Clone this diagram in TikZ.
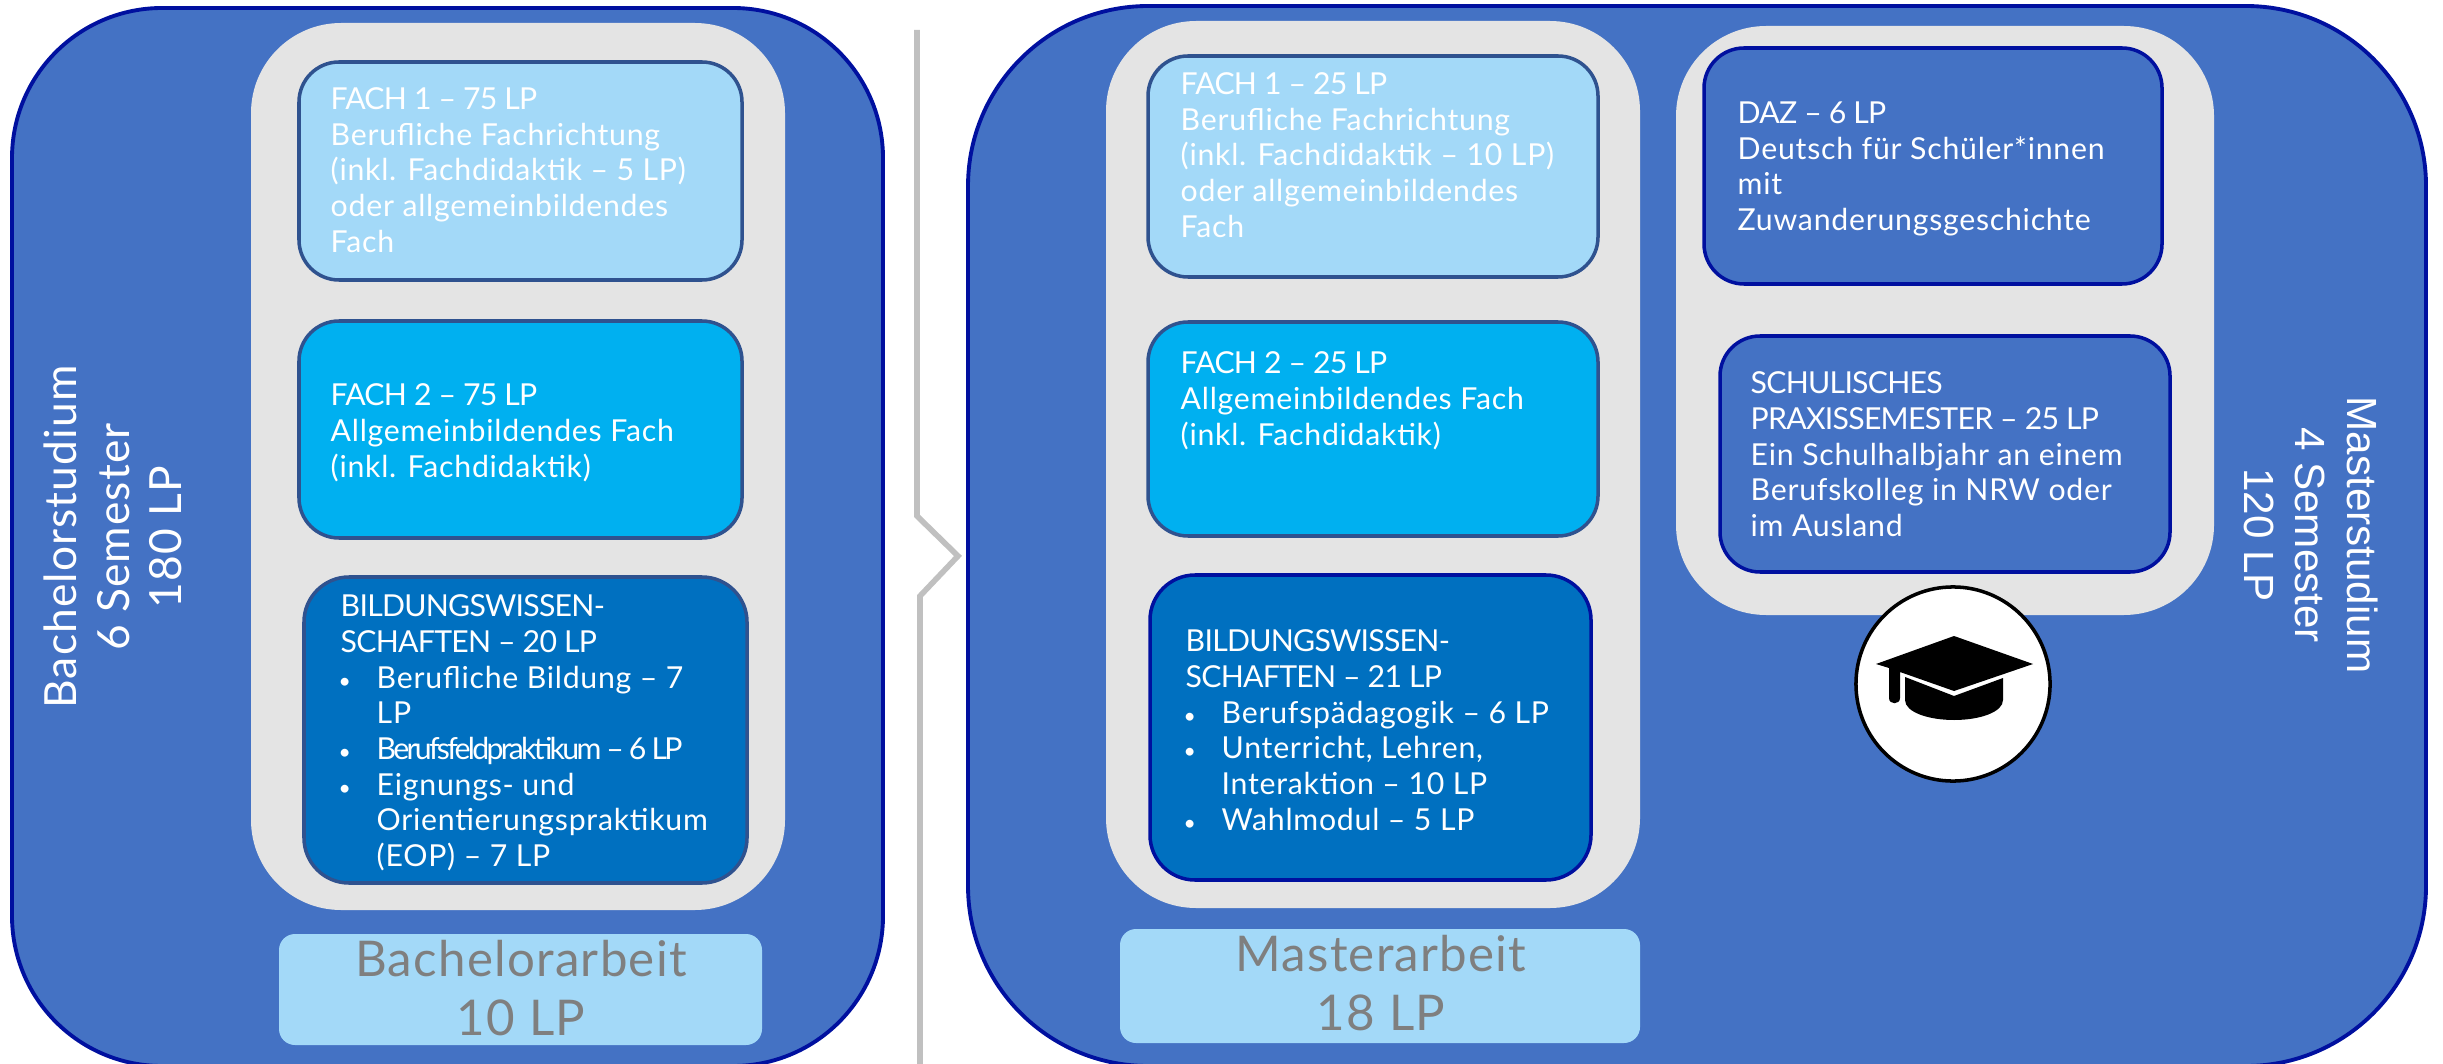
\documentclass[tikz,border=0pt]{standalone}
\usepackage{fontspec}
\setmainfont{Lato}[LetterSpace=2.5]
\newfontfamily\arialish{Liberation Sans}
\definecolor{outerblue}{HTML}{4472C4}
\definecolor{navyline}{HTML}{00109F}
\definecolor{slateline}{HTML}{2F528F}
\definecolor{panelgrey}{HTML}{E4E4E4}
\definecolor{paleblue}{HTML}{A3D9F8}
\definecolor{brightblue}{HTML}{00B0F0}
\definecolor{deepblue}{HTML}{0070C0}
\definecolor{labelgrey}{HTML}{7F7F7F}
\definecolor{dividergrey}{HTML}{C0C0C0}
\tikzset{
  outerbox/.style={draw=navyline,line width=1.1pt,fill=outerblue,rounded corners=1.5cm},
  panel/.style={fill=panelgrey,rounded corners=0.9cm},
  fachone/.style={draw=slateline,line width=1pt,fill=paleblue,rounded corners=0.4cm},
  fachtwo/.style={draw=slateline,line width=1pt,fill=brightblue,rounded corners=0.4cm},
  bildbox/.style={draw=slateline,line width=1pt,fill=deepblue,rounded corners=0.45cm},
  bildboxr/.style={draw=navyline,line width=1pt,fill=deepblue,rounded corners=0.45cm},
  mainbox/.style={draw=navyline,line width=1pt,fill=outerblue,rounded corners=0.4cm},
  thesisbox/.style={fill=paleblue,rounded corners=0.16cm},
  bodytext/.style={text=white,anchor=north west,inner sep=0pt,align=left,
    font=\fontsize{8.6pt}{10.15pt}\selectfont},
  thesistext/.style={text=labelgrey,inner sep=0pt,align=center,
    font=\fontsize{14pt}{17pt}\selectfont},
  sidetext/.style={text=white,inner sep=0pt,align=center,
    font=\fontsize{12.6pt}{15pt}\selectfont},
  sidetextr/.style={text=white,inner sep=0pt,align=center,
    font=\arialish\fontsize{12pt}{14.6pt}\selectfont},
}
\newcommand{\boxat}[6]{\node[#2,minimum width={(#5-#3)*0.01cm},minimum height={(#6-#4)*0.01cm},inner sep=0pt] (#1) at ({(#3+#5)/2},{(#4+#6)/2}) {};}
\newcommand{\itm}[1]{\makebox[0.36cm][l]{\hspace{-0.02cm}\scalebox{0.7}{•}}#1}
\newcommand{\cont}[1]{\hspace*{0.36cm}#1}
\newcommand{\hd}[1]{{\addfontfeature{LetterSpace=-2.5}#1}}
\begin{document}
\begin{tikzpicture}[x=0.01cm,y=-0.01cm]
\useasboundingbox (0,0) rectangle (2443,1064);
\clip (0,0) rectangle (2443,1064);
% left half
\boxat{bachelor}{outerbox}{12}{8}{883}{1066}
\boxat{bpanel}{panel}{251}{23}{785}{910}
\boxat{bfone}{fachone}{299}{62}{742}{280}
\boxat{bftwo}{fachtwo}{299}{321}{742}{538}
\boxat{bbild}{bildbox}{304}{577}{747}{883}
\boxat{barbeit}{thesisbox}{279}{934}{762}{1045}
\node[bodytext] (tbfone) at (330,87) {\hd{FACH 1 – 75 LP}\\Berufliche Fachrichtung\\(inkl. Fachdidaktik – 5 LP)\\oder allgemeinbildendes\\Fach};
\node[bodytext] (tbftwo) at (330,383) {\hd{FACH 2 – 75 LP}\\Allgemeinbildendes Fach\\(inkl. Fachdidaktik)};
\node[bodytext] (tbbild) at (340,594) {\hd{BILDUNGSWISSEN-}\\\hd{SCHAFTEN – 20 LP}\\\itm{Berufliche Bildung – 7}\\\cont{LP}\\\itm{\addfontfeature{LetterSpace=-9}Berufsfeldpraktikum – 6 LP}\\\itm{Eignungs- und}\\\cont{Orientierungspraktikum}\\\cont{(EOP) – 7 LP}};
\node[thesistext] (tbarbeit) at (521,988) {Bachelorarbeit\\10 LP};
\node[sidetext,rotate=90] (tbachelor) at (113,537) {Bachelorstudium\\6 Semester\\180 LP};
% divider
\coordinate (dtop) at (917,30);
\coordinate (dupper) at (917,516);
\coordinate (dtip) at (958,556);
\coordinate (dlower) at (920,596);
\coordinate (dbottom) at (920,1064);
\draw[dividergrey,line width=1.6pt] (dtop) -- (dupper) -- (dtip) -- (dlower) -- (dbottom);
% right half
\boxat{master}{outerbox,rounded corners=1.8cm}{968}{6}{2426}{1066}
\boxat{mpanel}{panel}{1106}{21}{1640}{908}
\boxat{mfone}{fachone}{1148}{56}{1598}{277}
\boxat{mftwo}{fachtwo}{1148}{322}{1598}{536}
\boxat{mbild}{bildboxr}{1150}{575}{1591}{880}
\boxat{marbeit}{thesisbox}{1120}{929}{1640}{1043}
\boxat{rpanel}{panel}{1676}{26}{2214}{615}
\boxat{daz}{mainbox}{1704}{48}{2162}{284}
\boxat{schul}{mainbox}{1720}{336}{2170}{572}
\node[bodytext] (tmfone) at (1180,72) {\hd{FACH 1 – 25 LP}\\Berufliche Fachrichtung\\(inkl. Fachdidaktik – 10 LP)\\oder allgemeinbildendes\\Fach};
\node[bodytext] (tmftwo) at (1180,351) {\hd{FACH 2 – 25 LP}\\Allgemeinbildendes Fach\\(inkl. Fachdidaktik)};
\node[bodytext] (tmbild) at (1185,629) {\hd{BILDUNGSWISSEN-}\\\hd{SCHAFTEN – 21 LP}\\\itm{Berufspädagogik – 6 LP}\\\itm{Unterricht, Lehren,}\\\cont{Interaktion – 10 LP}\\\itm{Wahlmodul – 5 LP}};
\node[bodytext] (tdaz) at (1737,101) {\hd{DAZ – 6 LP}\\Deutsch für Schüler*innen\\mit\\Zuwanderungsgeschichte};
\node[bodytext] (tschul) at (1750,371) {\hd{SCHULISCHES}\\\hd{PRAXISSEMESTER – 25 LP}\\Ein Schulhalbjahr an einem\\Berufskolleg in NRW oder\\im Ausland};
\node[thesistext] (tmarbeit) at (1381,983) {Masterarbeit\\18 LP};
\node[sidetextr,rotate=-90] (tmaster) at (2311,535) {Masterstudium\\4 Semester\\120 LP};
% graduation cap
\node[circle,draw=black,fill=white,line width=1pt,minimum size=1.94cm,inner sep=0pt] (capdisc) at (1953,684) {};
\fill[black] (1905,677) -- (1954,696) -- (2003,678) -- (2003,700) .. controls (2003,712) and (1980,720) .. (1954,720) .. controls (1928,720) and (1905,712) .. (1905,700) -- cycle;
\fill[black] (1954,636) -- (2033,664) -- (1954,691) -- (1900,672) -- (1900,698) .. controls (1900,705) and (1889,705) .. (1889,698) -- (1889,668) -- (1876,664) -- cycle;
\end{tikzpicture}
\end{document}
